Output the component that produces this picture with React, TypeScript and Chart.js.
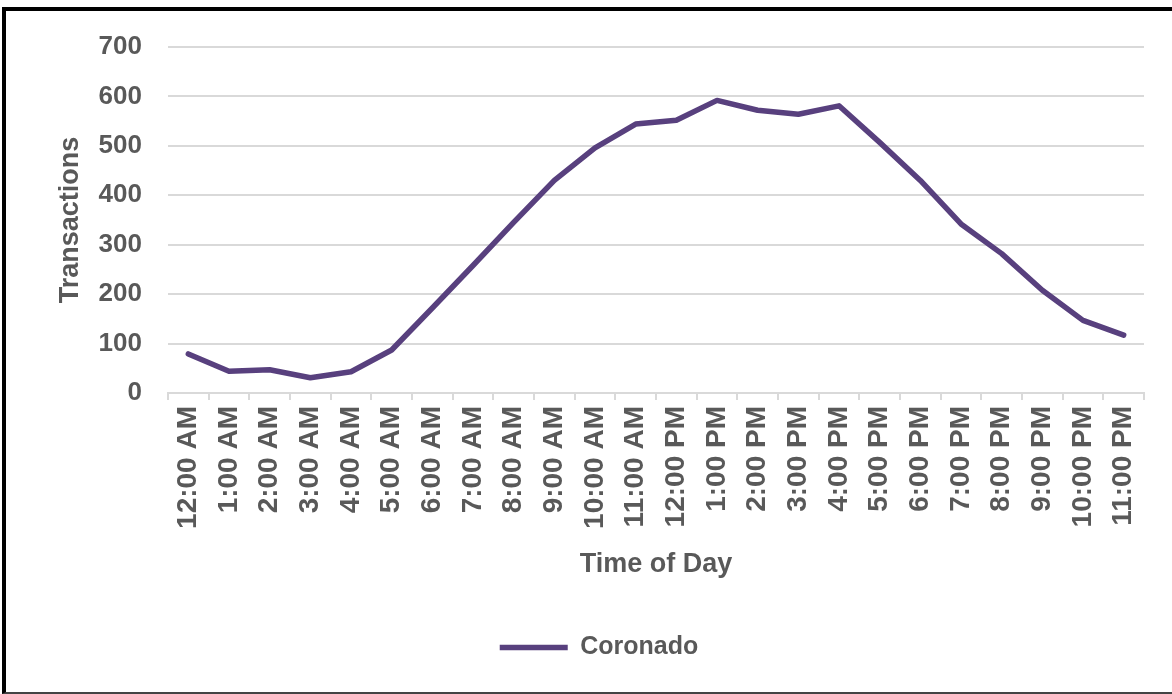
import React, { useEffect, useRef } from "react";
import { Chart, registerables } from "chart.js";

Chart.register(...registerables);

const hours: string[] = [
  "12:00 AM", "1:00 AM", "2:00 AM", "3:00 AM", "4:00 AM", "5:00 AM",
  "6:00 AM", "7:00 AM", "8:00 AM", "9:00 AM", "10:00 AM", "11:00 AM",
  "12:00 PM", "1:00 PM", "2:00 PM", "3:00 PM", "4:00 PM", "5:00 PM",
  "6:00 PM", "7:00 PM", "8:00 PM", "9:00 PM", "10:00 PM", "11:00 PM",
];

const coronado: number[] = [
  79, 44, 47, 31, 43, 87, 172, 258, 345, 430, 496, 544,
  552, 592, 572, 564, 581, 507, 430, 342, 282, 208, 147, 117,
];

const seriesName = "Coronado";
const xTitle = "Time of Day";
const yTitle = "Transactions";

const TEXT = "#595959";
const GRID = "#d9d9d9";
const LINE = "#58407e";
const FONT = "'Liberation Sans', Arial, sans-serif";

export default function App() {
  const ref = useRef<HTMLCanvasElement | null>(null);

  useEffect(() => {
    if (!ref.current) return;
    const chart = new Chart(ref.current, {
      type: "line",
      data: {
        labels: hours,
        datasets: [
          {
            label: seriesName,
            data: coronado,
            borderColor: LINE,
            backgroundColor: LINE,
            borderWidth: 5.5,
            borderCapStyle: "round",
            borderJoinStyle: "round",
            pointRadius: 0,
            pointHoverRadius: 0,
            pointStyle: "line",
            tension: 0,
          },
        ],
      },
      options: {
        responsive: false,
        animation: false,
        layout: { padding: { left: 54, top: 47, right: 28, bottom: 24 } },
        plugins: {
          tooltip: { enabled: false },
          legend: {
            position: "bottom",
            labels: {
              usePointStyle: true,
              pointStyleWidth: 68,
              padding: 54,
              color: TEXT,
              font: { family: FONT, size: 25, weight: "bold" },
            },
          },
        },
        scales: {
          x: {
            offset: true,
            grid: {
              offset: true,
              drawOnChartArea: false,
              drawTicks: true,
              tickLength: 7,
              color: GRID,
              lineWidth: 2,
            },
            border: { display: true, color: GRID, width: 2 },
            ticks: {
              autoSkip: false,
              maxRotation: 90,
              minRotation: 90,
              padding: 6,
              color: TEXT,
              font: { family: FONT, size: 28, weight: "bold" },
            },
            title: {
              display: true,
              text: xTitle,
              color: TEXT,
              padding: 0,
              font: { family: FONT, size: 27, weight: "bold" },
            },
            afterFit: (s: any) => {
              s.height = 188;
            },
          },
          y: {
            min: 0,
            max: 700,
            ticks: {
              stepSize: 100,
              padding: 26,
              color: TEXT,
              font: { family: FONT, size: 26, weight: "bold" },
            },
            grid: { color: GRID, lineWidth: 2, drawTicks: false },
            border: { display: false },
            title: {
              display: true,
              text: yTitle,
              color: TEXT,
              padding: 0,
              font: { family: FONT, size: 27, weight: "bold" },
            },
            afterFit: (s: any) => {
              s.width = 114;
            },
          },
        },
      },
    });
    return () => chart.destroy();
  }, []);

  return (
    <div
      style={{
        position: "absolute",
        left: 0,
        top: 0,
        width: 1172,
        height: 694,
        background: "#fff",
        overflow: "hidden",
      }}
    >
      <canvas ref={ref} width={1172} height={694} style={{ position: "absolute", left: 0, top: 0 }} />
      <div
        style={{
          position: "absolute",
          left: 2,
          top: 7,
          width: 1190,
          height: 687,
          boxSizing: "border-box",
          borderLeft: "4px solid #000",
          borderTop: "4px solid #000",
          borderBottom: "2px solid #444",
          pointerEvents: "none",
        }}
      />
    </div>
  );
}
